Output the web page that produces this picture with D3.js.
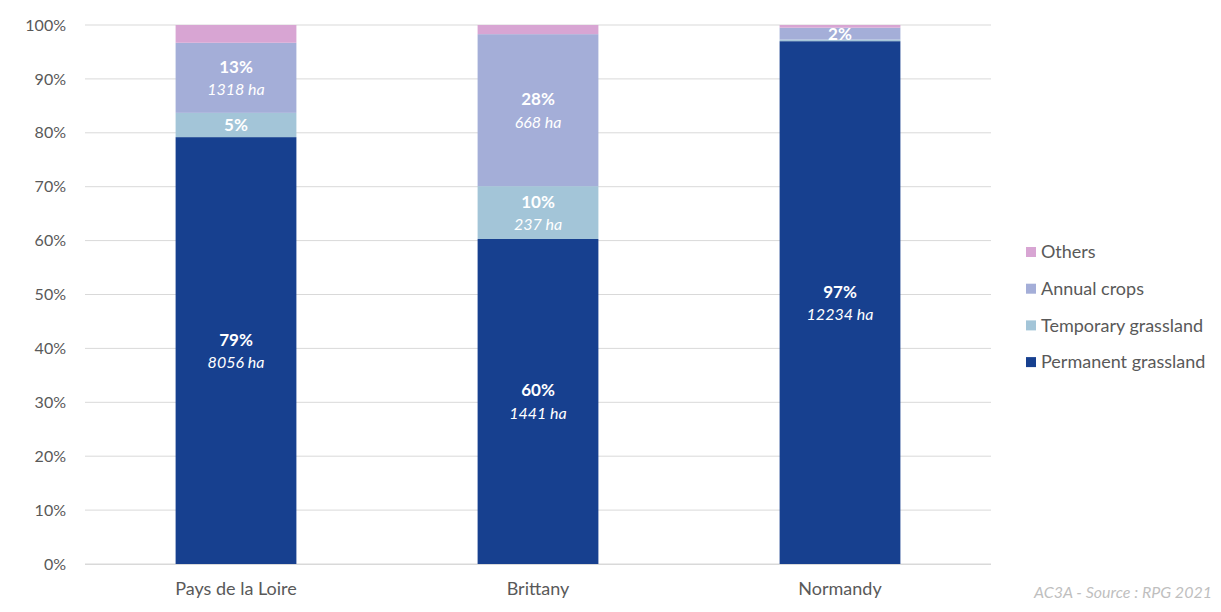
<!DOCTYPE html>
<html><head><meta charset="utf-8">
<script src="https://cdn.jsdelivr.net/npm/d3@7"></script>
<style>body{margin:0;background:#fff}text{font-family:Lato,"Open Sans",sans-serif}</style>
</head><body><svg id="c" width="1221" height="612"></svg>
<script>
const categories = ["Pays de la Loire", "Brittany", "Normandy"];
const seriesNames = ["Permanent grassland", "Temporary grassland", "Annual crops", "Others"];
const permanent = [79.2, 60.3, 97.0];
const temporary = [4.5, 9.8, 0.3];
const annual = [13.0, 28.2, 2.2];
const others = [3.3, 1.7, 0.5];
const pctLabels = [["79%", "5%", "13%", ""], ["60%", "10%", "28%", ""], ["97%", "", "2%", ""]];
const haLabels = [["8056 ha", "", "1318 ha", ""], ["1441 ha", "237 ha", "668 ha", ""], ["12234 ha", "", "", ""]];
const yTicks = [0,10,20,30,40,50,60,70,80,90,100];
const colors = ["#17408f", "#a3c5d8", "#a4aed8", "#d8a5d3"];

const svg = d3.select("#c");
const x = d3.scaleBand().domain(categories).range([85, 991]).paddingInner(0.6).paddingOuter(0.3);
const y = d3.scaleLinear().domain([0, 100]).range([564, 25]);

svg.append("g").selectAll("line").data(yTicks).join("line")
  .attr("x1", 85).attr("x2", 991).attr("y1", d => y(d)).attr("y2", d => y(d))
  .attr("stroke", "#d9d9d9").attr("stroke-width", 1);

const yAxis = d3.axisLeft(y).tickValues(yTicks).tickFormat(d => d + "%").tickSize(0).tickPadding(19);
const gy = svg.append("g").attr("transform", "translate(85,0)").call(yAxis);
gy.select(".domain").remove();
gy.selectAll("text").attr("fill", "#595959").style("font-size", "16px");

const data = categories.map((c, i) => ({cat: c, vals: [permanent[i], temporary[i], annual[i], others[i]]}));
const stack = d3.stack().keys([0,1,2,3]).value((d, k) => d.vals[k]);
const stacked = stack(data);

stacked.forEach((layer, k) => {
  svg.append("g").selectAll("rect").data(layer).join("rect")
    .attr("x", d => x(d.data.cat)).attr("width", x.bandwidth())
    .attr("y", d => y(d[1])).attr("height", d => y(d[0]) - y(d[1]))
    .attr("fill", colors[k]);
});

svg.append("line").attr("x1", 85).attr("x2", 991).attr("y1", y(0)+0.5).attr("y2", y(0)+0.5).attr("stroke", "#d9d9d9");

stacked.forEach((layer, k) => {
  layer.forEach((d, i) => {
    const p = pctLabels[i][k], h = haLabels[i][k];
    const cx = x(d.data.cat) + x.bandwidth()/2;
    const cy = (y(d[0]) + y(d[1]))/2;
    if (p) {
      svg.append("text").attr("x", cx).attr("y", h ? cy - 11 : cy).attr("dy", "0.35em")
        .attr("text-anchor", "middle").attr("fill", "#fff").style("font-size", "17px").style("font-weight", "bold").text(p);
    }
    if (h) {
      svg.append("text").attr("x", cx).attr("y", cy + 12).attr("dy", "0.35em")
        .attr("text-anchor", "middle").attr("fill", "#fff").style("font-size", "16px").style("font-style", "italic").text(h);
    }
  });
});

const xAxis = d3.axisBottom(x).tickSize(0).tickPadding(18);
const gx = svg.append("g").attr("transform", "translate(0,564)").call(xAxis);
gx.select(".domain").remove();
gx.selectAll("text").attr("fill", "#595959").style("font-size", "18px");

const legendOrder = [3,2,1,0];
const lg = svg.append("g");
legendOrder.forEach((k, j) => {
  const ly = 252 + j*36.7;
  lg.append("rect").attr("x", 1026).attr("y", ly - 5).attr("width", 10).attr("height", 10).attr("fill", colors[k]);
  lg.append("text").attr("x", 1041).attr("y", ly).attr("dy", "0.35em").attr("fill", "#595959").style("font-size", "18px").text(seriesNames[k]);
});

svg.append("text").attr("x", 1212).attr("y", 592).attr("dy", "0.35em").attr("text-anchor", "end")
  .attr("fill", "#bfbfbf").style("font-size", "16px").style("font-style", "italic").text("AC3A - Source : RPG 2021");
</script></body></html>
